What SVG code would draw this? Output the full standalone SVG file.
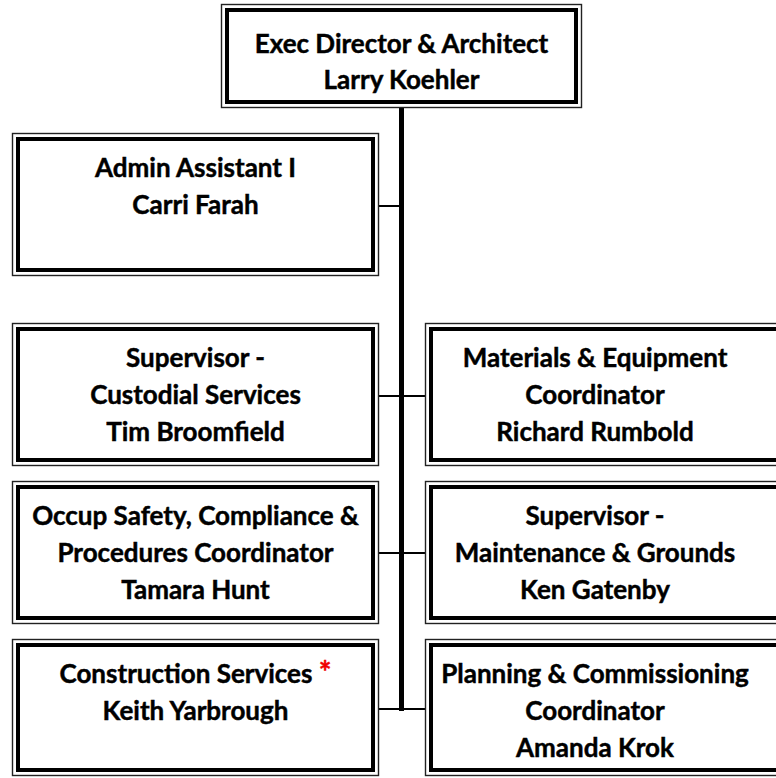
<svg xmlns="http://www.w3.org/2000/svg" width="776" height="778" viewBox="0 0 776 778">
<style>
.o{fill:none;stroke:#222;stroke-width:1.4}
.i{fill:none;stroke:#000;stroke-width:4}
.t{font-family:Lato,"Liberation Sans",sans-serif;font-weight:bold;font-size:26px;fill:#000;stroke:#000;stroke-width:0.45;text-anchor:middle}
.r{fill:#f00000;stroke:#f00000;font-size:30px}
.c{stroke:#000;fill:none}
</style>
<rect width="776" height="778" fill="#fff"/>
<g id="connectors">
<line class="c" x1="401.5" y1="107" x2="401.5" y2="711" stroke-width="5"/>
<line class="c" x1="379" y1="206" x2="401.5" y2="206" stroke-width="2"/>
<line class="c" x1="379" y1="396" x2="425" y2="396" stroke-width="2"/>
<line class="c" x1="379" y1="553" x2="425" y2="553" stroke-width="2"/>
<line class="c" x1="379" y1="709" x2="425" y2="709" stroke-width="2"/>
</g>
<g id="exec">
<rect class="o" x="221.5" y="4.5" width="360" height="103"/>
<rect class="i" x="227" y="10" width="349" height="92"/>
<text class="t" x="401.5" y="53">Exec Director &amp; Architect</text>
<text class="t" x="401.5" y="89">Larry Koehler</text>
</g>
<g id="admin">
<rect class="o" x="12.5" y="133.5" width="366" height="142"/>
<rect class="i" x="18" y="139" width="355" height="131"/>
<text class="t" x="195.5" y="177">Admin Assistant I</text>
<text class="t" x="195.5" y="214">Carri Farah</text>
</g>
<g id="custodial">
<rect class="o" x="12.5" y="323.5" width="366" height="142"/>
<rect class="i" x="18" y="329" width="355" height="131"/>
<text class="t" x="195.5" y="367">Supervisor -</text>
<text class="t" x="195.5" y="404">Custodial Services</text>
<text class="t" x="195.5" y="441">Tim Broomfield</text>
</g>
<g id="materials">
<rect class="o" x="425.5" y="323.5" width="366" height="142"/>
<rect class="i" x="431" y="329" width="355" height="131"/>
<text class="t" x="595" y="367">Materials &amp; Equipment</text>
<text class="t" x="595" y="404">Coordinator</text>
<text class="t" x="595" y="441">Richard Rumbold</text>
</g>
<g id="safety">
<rect class="o" x="12.5" y="481.5" width="366" height="142"/>
<rect class="i" x="18" y="487" width="355" height="131"/>
<text class="t" x="195.5" y="525">Occup Safety, Compliance &amp;</text>
<text class="t" x="195.5" y="562">Procedures Coordinator</text>
<text class="t" x="195.5" y="599">Tamara Hunt</text>
</g>
<g id="maintenance">
<rect class="o" x="425.5" y="481.5" width="366" height="142"/>
<rect class="i" x="431" y="487" width="355" height="131"/>
<text class="t" x="595" y="525">Supervisor -</text>
<text class="t" x="595" y="562">Maintenance &amp; Grounds</text>
<text class="t" x="595" y="599">Ken Gatenby</text>
</g>
<g id="construction">
<rect class="o" x="12.5" y="639.5" width="366" height="136"/>
<rect class="i" x="18" y="645" width="355" height="125"/>
<text class="t" x="195.5" y="683">Construction Services <tspan class="r">*</tspan></text>
<text class="t" x="195.5" y="720">Keith Yarbrough</text>
</g>
<g id="planning">
<rect class="o" x="425.5" y="639.5" width="366" height="136"/>
<rect class="i" x="431" y="645" width="355" height="125"/>
<text class="t" x="595" y="683">Planning &amp; Commissioning</text>
<text class="t" x="595" y="720">Coordinator</text>
<text class="t" x="595" y="757">Amanda Krok</text>
</g>
</svg>
